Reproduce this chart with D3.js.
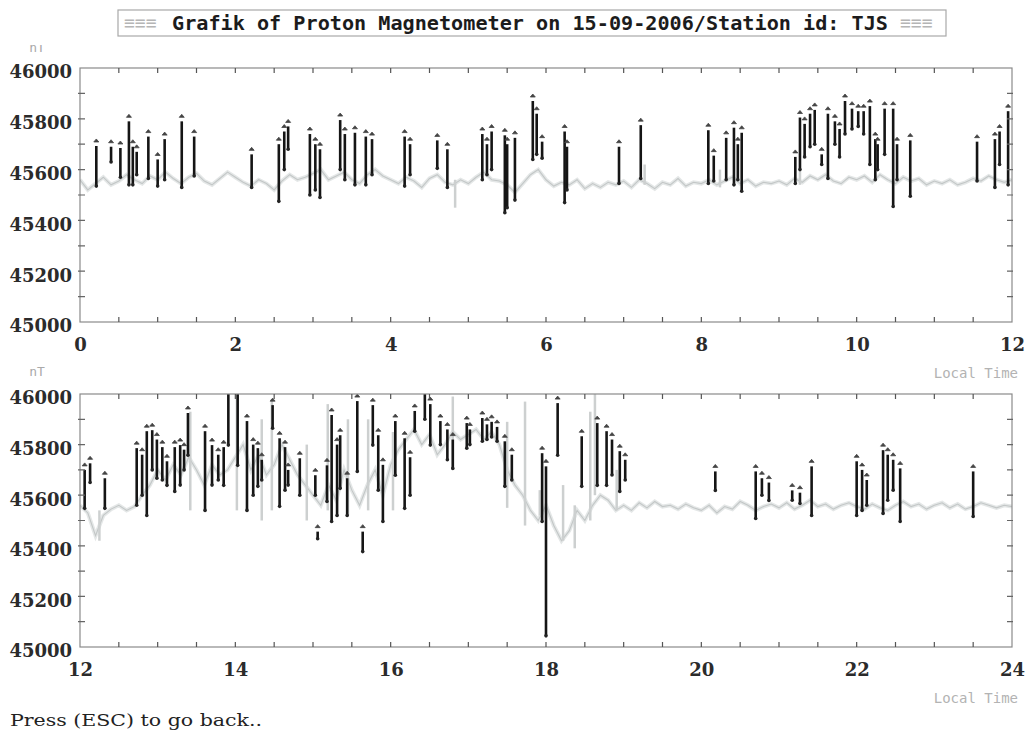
<!DOCTYPE html>
<html><head><meta charset="utf-8">
<script src="https://cdn.jsdelivr.net/npm/d3@7"></script>
<style>body{margin:0;background:#fff;} svg{display:block}</style>
</head><body>
<svg id="c" width="1025" height="735"></svg>
<script>
// ---------------- DATA ----------------
const titleText = "Grafik of Proton Magnetometer on 15-09-2006/Station id: TJS";
const hoursTop = [0, 2, 4, 6, 8, 10, 12];
const hoursBottom = [12, 14, 16, 18, 20, 22, 24];
const nTTicks = [45000, 45200, 45400, 45600, 45800, 46000];

// grey background trace, one value every 0.1 h from 0 to 24 h
const baseline = [
  45560,45520,45545,45570,45540,45555,45580,45560,45545,45575,
  45560,45590,45565,45545,45570,45585,45555,45540,45565,45590,
  45570,45550,45535,45560,45545,45520,45555,45580,45560,45570,
  45585,45600,45560,45575,45590,45560,45545,45580,45600,45575,
  45560,45545,45570,45555,45530,45565,45580,45550,45540,45560,
  45545,45570,45590,45560,45555,45540,45510,45545,45580,45600,
  45560,45535,45550,45540,45560,45525,45545,45530,45550,45540,
  45555,45530,45560,45545,45525,45550,45540,45565,45535,45550,
  45545,45560,45540,45555,45570,45545,45560,45535,45550,45545,
  45555,45540,45565,45550,45575,45560,45580,45555,45545,45570,
  45560,45575,45550,45580,45560,45545,45570,45555,45565,45540,
  45555,45545,45560,45540,45550,45565,45555,45575,45560,45550,
  45560,45530,45440,45520,45545,45560,45540,45555,45600,45640,
  45700,45660,45720,45680,45750,45700,45640,45720,45680,45700,
  45750,45800,45700,45760,45680,45720,45800,45740,45680,45640,
  45600,45560,45640,45580,45700,45620,45560,45640,45700,45600,
  45720,45780,45820,45860,45800,45840,45760,45800,45850,45820,
  45840,45860,45820,45850,45800,45700,45640,45600,45540,45500,
  45560,45480,45420,45460,45540,45500,45560,45600,45580,45540,
  45560,45540,45570,45550,45575,45555,45560,45545,45565,45550,
  45540,45560,45530,45555,45545,45575,45560,45540,45555,45565,
  45550,45570,45545,45560,45580,45555,45565,45545,45560,45570,
  45555,45545,45565,45550,45540,45560,45575,45555,45565,45545,
  45560,45570,45550,45565,45545,45555,45570,45560,45550,45560,
  45555
];

// black readings: [hour, low nT, high nT]
const spikesTop = [
  [0.21,45535,45693],[0.40,45630,45690],[0.52,45570,45685],[0.63,45540,45790],
  [0.68,45540,45690],[0.73,45580,45670],[0.88,45565,45730],[1.00,45535,45640],
  [1.09,45560,45720],[1.31,45530,45790],[1.47,45575,45730],[2.21,45530,45660],
  [2.56,45475,45700],[2.63,45600,45750],[2.68,45680,45770],[2.96,45500,45740],
  [3.03,45520,45700],[3.09,45490,45680],[3.35,45600,45795],[3.41,45560,45740],
  [3.54,45540,45745],[3.68,45540,45730],[3.76,45580,45720],[4.18,45535,45730],
  [4.25,45580,45700],[4.60,45605,45715],[4.73,45530,45680],[5.18,45560,45740],
  [5.24,45580,45700],[5.30,45600,45750],[5.47,45430,45735],[5.50,45450,45700],
  [5.60,45480,45725],[5.83,45640,45870],[5.88,45660,45820],[5.95,45645,45710],
  [6.24,45470,45750],[6.27,45520,45690],[6.94,45545,45690],[7.22,45565,45775],
  [8.09,45545,45755],[8.16,45555,45655],[8.32,45560,45725],[8.42,45540,45765],
  [8.47,45560,45700],[8.52,45515,45745],[9.21,45545,45650],[9.27,45600,45805],
  [9.33,45650,45780],[9.40,45690,45820],[9.46,45700,45835],[9.55,45620,45660],
  [9.63,45565,45820],[9.72,45700,45790],[9.78,45650,45760],[9.85,45740,45870],
  [9.94,45760,45840],[10.02,45770,45830],[10.09,45740,45830],[10.17,45620,45850],
  [10.24,45560,45720],[10.27,45600,45700],[10.36,45660,45840],[10.47,45455,45840],
  [10.52,45560,45700],[10.69,45495,45715],[11.55,45555,45710],[11.78,45530,45720],
  [11.84,45620,45750],[11.95,45540,45830]
];
const spikesBottom = [
  [12.06,45548,45700],[12.13,45650,45726],[12.32,45548,45667],[12.73,45560,45786],
  [12.80,45600,45760],[12.86,45520,45853],[12.93,45700,45857],[12.99,45667,45820],
  [13.06,45660,45790],[13.12,45639,45734],[13.22,45615,45790],[13.29,45640,45798],
  [13.34,45700,45780],[13.39,45758,45925],[13.61,45540,45853],[13.70,45640,45798],
  [13.78,45660,45760],[13.85,45639,45790],[13.91,45798,46000],[14.03,45718,46000],
  [14.15,45540,45893],[14.23,45600,45800],[14.29,45635,45786],[14.34,45660,45740],
  [14.48,45865,45956],[14.57,45556,45825],[14.64,45620,45790],[14.68,45640,45700],
  [14.83,45600,45746],[15.03,45600,45679],[15.06,45428,45456],[15.18,45575,45718],
  [15.24,45496,45917],[15.31,45520,45800],[15.35,45627,45837],[15.44,45520,45667],
  [15.57,45694,45972],[15.64,45377,45456],[15.77,45798,45956],[15.84,45620,45837],
  [15.90,45496,45720],[16.06,45679,45893],[16.18,45548,45825],[16.25,45600,45750],
  [16.31,45853,45933],[16.44,45900,46000],[16.51,45798,45960],[16.64,45800,45893],
  [16.73,45740,45860],[16.80,45706,45820],[16.98,45786,45885],[17.02,45800,45860],
  [17.18,45813,45905],[17.24,45820,45880],[17.30,45830,45890],[17.37,45813,45870],
  [17.47,45635,45813],[17.56,45660,45760],[17.95,45496,45766],[18.00,45044,45714],
  [18.15,45758,45964],[18.46,45635,45833],[18.66,45639,45885],[18.78,45639,45853],
  [18.85,45680,45820],[18.95,45615,45774],[19.02,45660,45740],[20.18,45619,45694],
  [20.70,45508,45694],[20.78,45600,45667],[20.87,45579,45650],[21.17,45580,45619],
  [21.27,45567,45610],[21.42,45520,45714],[22.00,45520,45734],[22.07,45540,45700],
  [22.13,45560,45660],[22.34,45528,45778],[22.40,45580,45760],[22.47,45620,45740],
  [22.56,45496,45706],[23.50,45516,45694]
];
// faint grey excursions: [hour, low nT, high nT]
const greySpikes = [
  [4.83,45450,45560],[7.27,45540,45620],[8.24,45530,45600],[9.27,45540,45600],
  [12.25,45420,45540],[13.42,45540,45930],[14.02,45540,46000],[14.34,45500,45900],
  [14.47,45540,45980],[14.92,45500,45800],[15.19,45540,45960],[15.45,45520,45900],
  [15.71,45540,45900],[16.03,45540,45850],[16.80,45700,45990],[17.50,45550,45890],
  [17.73,45480,45970],[17.92,45520,45620],[18.22,45420,45640],[18.37,45390,45560],
  [18.57,45500,45930],[18.63,45600,46000],[18.91,45540,45700]
];

// ---------------- DRAWING ----------------
const svg = d3.select("#c");
const panels = [
  {dom:[0,12], ticks:hoursTop, spikes:spikesTop, top:68, bottom:322},
  {dom:[12,24], ticks:hoursBottom, spikes:spikesBottom, top:394, bottom:647}
];
const X0 = 80, X1 = 1012;
const labelFont = "'DejaVu Serif', serif";

panels.forEach((p, i) => {
  const x = d3.scaleLinear().domain(p.dom).range([X0, X1]);
  const y = d3.scaleLinear().domain([45000, 46000]).range([p.bottom, p.top]);
  const g = svg.append("g");
  const clipId = "clip" + i;
  svg.append("clipPath").attr("id", clipId).append("rect")
    .attr("x", X0).attr("y", p.top).attr("width", X1 - X0).attr("height", p.bottom - p.top);

  const data = g.append("g").attr("clip-path", `url(#${clipId})`);
  // grey trace
  const pts = baseline.map((v, k) => [k / 10, v]).filter(d => d[0] >= p.dom[0] && d[0] <= p.dom[1]);
  const line = d3.line().x(d => x(d[0])).y(d => y(d[1]));
  data.append("path").datum(pts).attr("d", line)
    .attr("fill", "none").attr("stroke", "#e4e7e7").attr("stroke-width", 4);
  data.append("path").datum(pts).attr("d", line)
    .attr("fill", "none").attr("stroke", "#c3c7c7").attr("stroke-width", 1.1);
  const gs = greySpikes.filter(d => d[0] >= p.dom[0] && d[0] <= p.dom[1]);
  data.selectAll(".gs").data(gs).enter().append("line")
    .attr("x1", d => x(d[0])).attr("x2", d => x(d[0]))
    .attr("y1", d => y(d[1])).attr("y2", d => y(d[2]))
    .attr("stroke", "#cdd0d0").attr("stroke-width", 2.5);

  // black readings
  data.selectAll(".sp").data(p.spikes).enter().append("line")
    .attr("x1", d => x(d[0])).attr("x2", d => x(d[0]))
    .attr("y1", d => y(d[1])).attr("y2", d => y(d[2]))
    .attr("stroke", "#151515").attr("stroke-width", 2.6);
  data.selectAll(".dt").data(p.spikes).enter().append("circle")
    .attr("cx", d => x(d[0])).attr("cy", d => y(d[1])).attr("r", 1.8).attr("fill", "#222");
  data.selectAll(".ct").data(p.spikes).enter().append("path")
    .attr("d", d => `M${x(d[0]) - 2.5},${y(d[2]) - 4} L${x(d[0])},${y(d[2]) - 7} L${x(d[0]) + 2.5},${y(d[2]) - 4} Z`)
    .attr("fill", "#444").attr("stroke", "#444").attr("stroke-width", 0.8);

  // frame
  g.append("rect").attr("x", X0).attr("y", p.top).attr("width", X1 - X0).attr("height", p.bottom - p.top)
    .attr("fill", "none").attr("stroke", "#8a8a8a").attr("stroke-width", 1.2);

  // minor ticks: every 0.5 h on top and bottom, every 100 nT on left and right
  const hTicks = d3.range(p.dom[0] + 0.5, p.dom[1], 0.5);
  const vTicks = d3.range(45100, 46000, 100);
  g.selectAll(".ht").data(hTicks).enter().append("path")
    .attr("d", d => `M${x(d)},${p.top} v5 M${x(d)},${p.bottom} v-5`)
    .attr("stroke", "#555").attr("stroke-width", 1.2);
  g.selectAll(".vt").data(vTicks).enter().append("path")
    .attr("d", d => `M${X0 - 2},${y(d)} h7 M${X1 + 1},${y(d)} h-6`)
    .attr("stroke", "#666").attr("stroke-width", 1.2);

  // axes labels
  const ay = d3.axisLeft(y).tickValues(nTTicks).tickFormat(d3.format("d")).tickSize(0).tickPadding(8);
  const gy = g.append("g").attr("transform", `translate(${X0},0)`).call(ay);
  gy.select(".domain").remove();
  gy.selectAll("text").attr("font-family", labelFont).attr("font-weight", "bold")
    .attr("font-size", 18).attr("fill", "#2b2b2b").attr("dy", "0.55em");

  const ax = d3.axisBottom(x).tickValues(p.ticks).tickFormat(d3.format("d")).tickSize(0).tickPadding(16);
  const gx = g.append("g").attr("transform", `translate(0,${p.bottom})`).call(ax);
  gx.select(".domain").remove();
  gx.selectAll("text").attr("font-family", labelFont).attr("font-weight", "bold")
    .attr("font-size", 18).attr("fill", "#2b2b2b");

  // "Local Time"
  svg.append("text").attr("x", 1018).attr("y", p.bottom + 56).attr("text-anchor", "end")
    .attr("font-family", "'DejaVu Sans Mono', monospace").attr("font-size", 14)
    .attr("fill", "#b3b3b3").text("Local Time");
});

// nT labels
svg.append("clipPath").attr("id", "ntclip").append("rect").attr("x", 0).attr("y", 45).attr("width", 80).attr("height", 20);
svg.append("text").attr("x", 37).attr("y", 52).attr("text-anchor", "middle").attr("clip-path", "url(#ntclip)")
  .attr("font-family", "'DejaVu Sans Mono', monospace").attr("font-size", 13).attr("fill", "#aaa").text("nT");
svg.append("text").attr("x", 37).attr("y", 376).attr("text-anchor", "middle")
  .attr("font-family", "'DejaVu Sans Mono', monospace").attr("font-size", 13).attr("fill", "#aaa").text("nT");

// title box
svg.append("rect").attr("x", 118).attr("y", 10).attr("width", 828).attr("height", 26)
  .attr("fill", "#fff").attr("stroke", "#a8a8a8").attr("stroke-width", 1.2);
svg.append("text").attr("x", 124).attr("y", 29).attr("font-family", "'DejaVu Sans Mono', monospace")
  .attr("font-size", 18).attr("fill", "#b5b5b5").text("≡≡≡");
svg.append("text").attr("x", 900).attr("y", 29).attr("font-family", "'DejaVu Sans Mono', monospace")
  .attr("font-size", 18).attr("fill", "#b5b5b5").text("≡≡≡");
svg.append("text").attr("x", 172).attr("y", 30).attr("textLength", 716).attr("lengthAdjust", "spacingAndGlyphs")
  .attr("font-family", "'DejaVu Sans Mono', monospace").attr("font-weight", "bold")
  .attr("font-size", 19).attr("fill", "#1c1c1c").text(titleText);

// footer
svg.append("text").attr("x", 10).attr("y", 726).attr("textLength", 252).attr("lengthAdjust", "spacingAndGlyphs")
  .attr("font-family", "'DejaVu Serif', serif").attr("font-size", 16).attr("fill", "#222")
  .text("Press (ESC) to go back..");
</script>
</body></html>
